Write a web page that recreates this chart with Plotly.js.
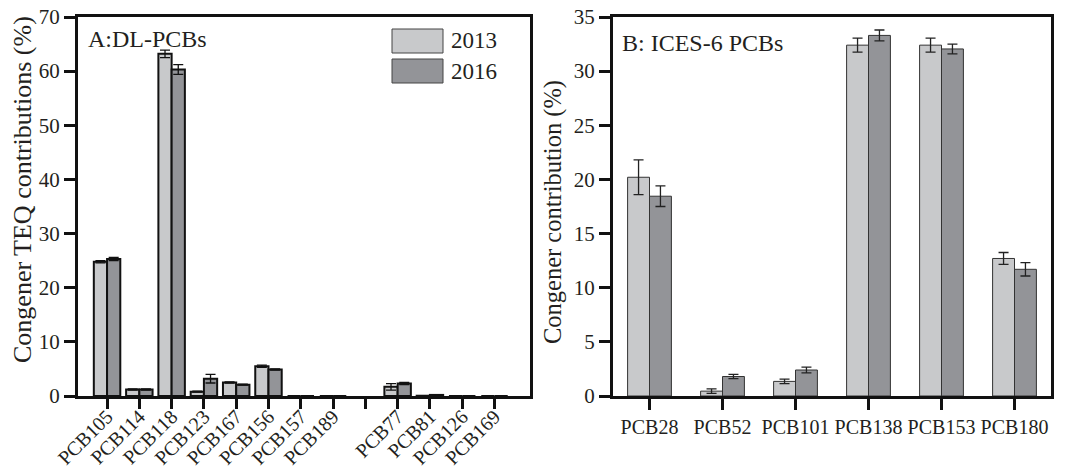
<!DOCTYPE html>
<html>
<head>
<meta charset="utf-8">
<script src="https://cdn.plot.ly/plotly-3.0.1.min.js"></script>
<style>html,body{margin:0;padding:0;background:#fff;}#chart{width:1070px;height:469px;}</style>
</head>
<body>
<div id="chart"></div>
<script>
// Panel A: DL-PCBs congener TEQ contributions (%)
const dlCategories = ["PCB105","PCB114","PCB118","PCB123","PCB167","PCB156","PCB157","PCB189"," ","PCB77","PCB81","PCB126","PCB169"];
const dl2013 = [24.8, 1.2, 63.2, 0.8, 2.5, 5.5, 0, 0, null, 1.7, 0.05, 0, 0];
const dl2013Err = [0.2, 0.1, 0.7, 0.1, 0.1, 0.2, 0, 0, null, 0.6, 0, 0, 0];
const dl2016 = [25.3, 1.2, 60.3, 3.2, 2.1, 4.9, 0, 0, null, 2.3, 0.2, 0, 0];
const dl2016Err = [0.3, 0.1, 0.9, 0.8, 0.1, 0.1, 0, 0, null, 0.2, 0, 0, 0];

// Panel B: ICES-6 PCBs congener contribution (%)
const icesCategories = ["PCB28","PCB52","PCB101","PCB138","PCB153","PCB180"];
const ices2013 = [20.2, 0.45, 1.35, 32.4, 32.4, 12.7];
const ices2013Err = [1.6, 0.2, 0.2, 0.65, 0.65, 0.55];
const ices2016 = [18.45, 1.8, 2.4, 33.3, 32.05, 11.7];
const ices2016Err = [0.95, 0.2, 0.27, 0.5, 0.45, 0.62];

const seriesNames = ["2013", "2016"];
const yTitles = ["Congener TEQ contributions (%)", "Congener contribution (%)"];
const lightGray = "#c8c9cb";
const darkGray = "#939498";
const font = "Liberation Serif, Times New Roman, serif";
const ink = "#231f20";

const wA = 0.41, wB = 0.3;

const traces = [
  {type:"bar", name:seriesNames[0], x:dlCategories, y:dl2013, xaxis:"x", yaxis:"y",
   width:wA, offset:-wA, marker:{color:lightGray, line:{color:"#111", width:2}},
   error_y:{type:"data", array:dl2013Err, visible:true, color:"#111", thickness:1.3, width:5}, showlegend:false},
  {type:"bar", name:seriesNames[1], x:dlCategories, y:dl2016, xaxis:"x", yaxis:"y",
   width:wA, offset:0, marker:{color:darkGray, line:{color:"#111", width:2}},
   error_y:{type:"data", array:dl2016Err, visible:true, color:"#111", thickness:1.3, width:5}, showlegend:false},
  {type:"bar", name:seriesNames[0], x:icesCategories, y:ices2013, xaxis:"x2", yaxis:"y2",
   width:wB, offset:-wB, marker:{color:lightGray, line:{color:"#333", width:1}},
   error_y:{type:"data", array:ices2013Err, visible:true, color:"#222", thickness:1.3, width:5}, showlegend:false},
  {type:"bar", name:seriesNames[1], x:icesCategories, y:ices2016, xaxis:"x2", yaxis:"y2",
   width:wB, offset:0, marker:{color:darkGray, line:{color:"#333", width:1}},
   error_y:{type:"data", array:ices2016Err, visible:true, color:"#222", thickness:1.3, width:5}, showlegend:false}
];

const axisCommon = {showline:true, linecolor:"#111", linewidth:3, mirror:true, showgrid:false, zeroline:false,
  ticks:"outside", tickcolor:"#111", tickwidth:3, ticklen:11, tickfont:{family:font, size:21, color:ink}};

const yTop = 1 - 17/469, yBot = 1 - 396/469;

const layout = {
  width:1070, height:469,
  margin:{l:0, r:0, t:0, b:0},
  paper_bgcolor:"#fff", plot_bgcolor:"#fff",
  barmode:"overlay",
  showlegend:false,
  font:{family:font, color:ink},
  xaxis:Object.assign({}, axisCommon, {domain:[78/1070, 530/1070], anchor:"y", type:"category",
    categoryorder:"array", categoryarray:dlCategories, range:[-0.9, 13.1], tickangle:-45, ticklen:10,
    ticklabelstandoff:-12, tickfont:{family:font, size:20, color:ink}}),
  yaxis:Object.assign({}, axisCommon, {domain:[yBot, yTop], anchor:"x", range:[0,70], dtick:10}),
  xaxis2:Object.assign({}, axisCommon, {domain:[613/1070, 1051/1070], anchor:"y2", type:"category",
    categoryorder:"array", categoryarray:icesCategories, range:[-0.5, 5.5], tickangle:0,
    tickfont:{family:font, size:20, color:ink}}),
  yaxis2:Object.assign({}, axisCommon, {domain:[yBot, yTop], anchor:"x2", range:[0,35], dtick:5}),
  shapes:[
    {type:"rect", xref:"paper", yref:"paper", x0:392/1070, x1:443/1070, y0:1-53/469, y1:1-29/469,
     fillcolor:lightGray, line:{color:"#444", width:1}},
    {type:"rect", xref:"paper", yref:"paper", x0:392/1070, x1:443/1070, y0:1-83/469, y1:1-59/469,
     fillcolor:darkGray, line:{color:"#444", width:1}}
  ],
  annotations:[
    {xref:"paper", yref:"paper", x:22/1070, y:1-190/469, xanchor:"center", yanchor:"middle", showarrow:false,
     textangle:-90, text:yTitles[0], font:{family:font, size:26, color:ink}},
    {xref:"paper", yref:"paper", x:553/1070, y:1-212/469, xanchor:"center", yanchor:"middle", showarrow:false,
     textangle:-90, text:yTitles[1], font:{family:font, size:24.5, color:ink}},
    {xref:"paper", yref:"paper", x:449/1070, y:1-41/469, xanchor:"left", yanchor:"middle", showarrow:false,
     text:seriesNames[0], font:{family:font, size:23, color:ink}},
    {xref:"paper", yref:"paper", x:449/1070, y:1-71/469, xanchor:"left", yanchor:"middle", showarrow:false,
     text:seriesNames[1], font:{family:font, size:23, color:ink}},
    {xref:"paper", yref:"paper", x:86/1070, y:1-39/469, xanchor:"left", yanchor:"middle", showarrow:false,
     text:"A:DL-PCBs", font:{family:font, size:24, color:ink}},
    {xref:"paper", yref:"paper", x:620/1070, y:1-43/469, xanchor:"left", yanchor:"middle", showarrow:false,
     text:"B: ICES-6 PCBs", font:{family:font, size:24, color:ink}}
  ]
};

Plotly.newPlot("chart", traces, layout, {displayModeBar:false, staticPlot:true});
</script>
</body>
</html>
